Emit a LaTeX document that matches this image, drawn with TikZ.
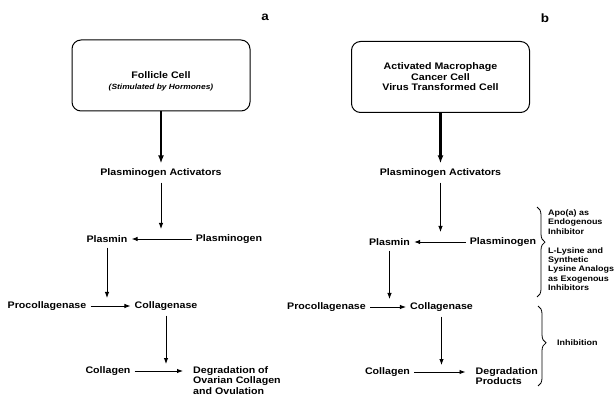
\documentclass[tikz,border=0pt]{standalone}
\usepackage{fontspec}
\setmainfont{Liberation Sans}[FakeStretch=1.12]
\usetikzlibrary{
  arrows.meta,
  positioning,
  decorations.pathreplacing
}

\begin{document}
\begin{tikzpicture}[
  x=1pt,y=1pt,
  on grid,
  cell/.style={
    draw,
    line width=1pt,
    rounded corners=9pt,
    align=center,
    minimum width=178pt,
    minimum height=71pt,
    font=\fontsize{9.5}{10.5}\selectfont\bfseries
  },
  term/.style={
    inner xsep=4pt,
    inner ysep=5pt,
    font=\fontsize{9.5}{10.5}\selectfont\bfseries
  },
  result/.style={
    term,
    align=left,
    anchor=north west
  },
  note/.style={
    anchor=west,
    align=left,
    inner sep=4pt,
    font=\fontsize{8}{9.2}\selectfont\bfseries
  },
  panel/.style={
    font=\fontsize{12}{12}\selectfont\bfseries
  },
  arrow/.style={
    -{Latex[length=6pt,width=4.5pt]},
    line width=0.9pt
  },
  thickarrow/.style={
    -{Latex[length=8pt,width=6pt]},
    line width=2.6pt
  },
  inhibrace/.style={
    decorate,
    decoration={brace,amplitude=8pt,#1},
    line width=0.8pt
  }
]
\useasboundingbox (0,0) rectangle (615,396);

\node[panel] (labA) at (265,379) {a};
\node[panel] (labB) at (545,378) {b};

% --- panel a: follicle cell ---
\node[cell] (boxA) at (161,320.5) {};
\node[term,align=center,below=6pt of boxA] (follA)
  {Follicle Cell\\[1pt]{\fontsize{7.5}{8}\selectfont\itshape (Stimulated by Hormones)}};

\node[term,below=97.5pt of boxA] (actA) {Plasminogen Activators};
\node[term,below left=66pt and 54pt of actA] (plasminA) {Plasmin};
\node[term,right=122pt of plasminA] (plgA) {Plasminogen};
\node[term,below left=67pt and 60pt of plasminA] (procA) {Procollagenase};
\node[term,right=119pt of procA] (clgnA) {Collagenase};
\node[term,below left=65pt and 58pt of clgnA] (clgA) {Collagen};
\node[right=81pt of clgA.north,result] (degA)
  {Degradation of\\Ovarian Collagen\\and Ovulation};

\coordinate (jA1) at (actA |- plasminA);
\coordinate (jA2) at (plasminA |- procA);
\coordinate (jA3) at (clgnA |- clgA);

\draw[thickarrow] (boxA) -- (actA);
\draw[arrow,shorten >=10pt] (actA) -- (jA1);
\draw[arrow] (plgA) -- (plasminA);
\draw[arrow,shorten >=8pt] (plasminA) -- (jA2);
\draw[arrow] (procA) -- (clgnA);
\draw[arrow,shorten >=7pt] (clgnA) -- (jA3);
\draw[arrow,shorten >=6pt] (clgA) -- (clgA -| degA.west);

% --- panel b: macrophage / cancer cell ---
\node[cell] (boxB) at (440.5,319)
  {Activated Macrophage\\Cancer Cell\\Virus Transformed Cell};

\node[term,below=96pt of boxB] (actB) {Plasminogen Activators};
\node[term,below left=69pt and 51pt of actB] (plasminB) {Plasmin};
\node[term,right=113.5pt of plasminB] (plgB) {Plasminogen};
\node[term,below left=65pt and 63pt of plasminB] (procB) {Procollagenase};
\node[term,right=115pt of procB] (clgnB) {Collagenase};
\node[term,below left=65pt and 54pt of clgnB] (clgB) {Collagen};
\node[right=84pt of clgB.north,result] (degB)
  {Degradation\\Products};

\coordinate (jB1) at (actB |- plasminB);
\coordinate (jB2) at (plasminB |- procB);
\coordinate (jB3) at (clgnB |- clgB);

\draw[thickarrow] (boxB) -- (actB);
\draw[arrow,shorten >=10pt] (actB) -- (jB1);
\draw[arrow] (plgB) -- (plasminB);
\draw[arrow,shorten >=8pt] (plasminB) -- (jB2);
\draw[arrow] (procB) -- (clgnB);
\draw[arrow,shorten >=7pt] (clgnB) -- (jB3);
\draw[arrow,shorten >=6pt] (clgB) -- (clgB -| degB.west);

% --- inhibitors ---
\coordinate (brAtop) at (537,189);
\coordinate (brAbot) at (537,99);
\draw[inhibrace={aspect=0.39}] (brAtop) -- (brAbot);
\node[note] (apo) at (544,174) {Apo(a) as\\Endogenous\\Inhibitor};
\node[note] (lys) at (544,127)
  {L-Lysine and\\Synthetic\\Lysine Analogs\\as Exogenous\\Inhibitors};

\coordinate (brBtop) at (538,90);
\coordinate (brBbot) at (538,10);
\draw[inhibrace={aspect=0.46}] (brBtop) -- (brBbot);
\node[note] (inh) at (553,53) {Inhibition};

\end{tikzpicture}
\end{document}
